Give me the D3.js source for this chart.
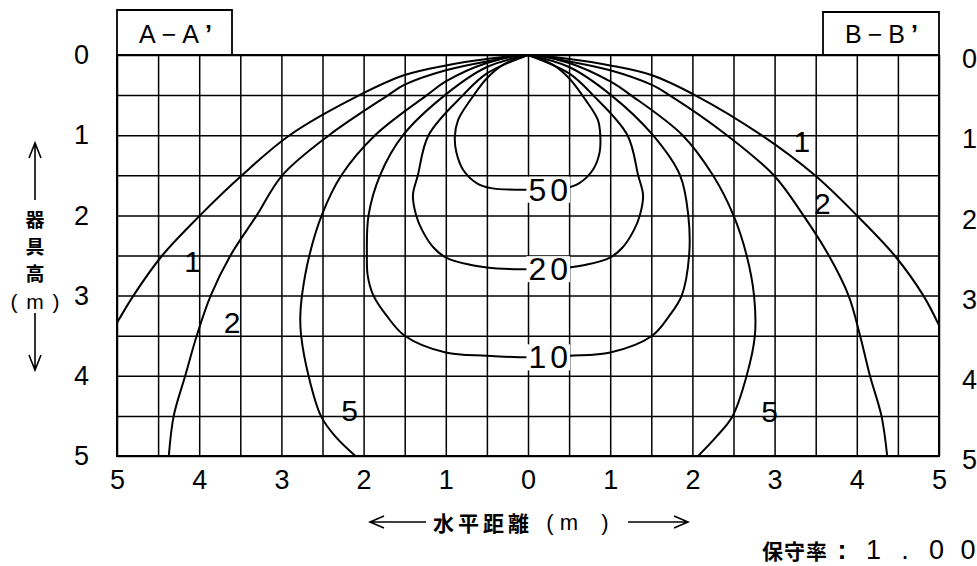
<!DOCTYPE html>
<html>
<head>
<meta charset="utf-8">
<script src="https://cdn.jsdelivr.net/npm/d3@7"></script>
<style>
  html, body { margin: 0; padding: 0; background: #fff; }
  svg { display: block; }
  text { font-family: "Liberation Sans", Arial, sans-serif; fill: #000; }
  .cjk { font-family: "Noto Sans CJK JP", sans-serif; font-weight: 700; }
</style>
</head>
<body>
<svg id="chart" width="977" height="566"></svg>
<script>
// horizontal distance (m): negative side = A-A', positive side = B-B'
const xTicks = [-5, -4, -3, -2, -1, 0, 1, 2, 3, 4, 5];
const yTicks = [0, 1, 2, 3, 4, 5];
const gridX = [-5, -4.5, -4, -3.5, -3, -2.5, -2, -1.5, -1, -0.5, 0, 0.5, 1, 1.5, 2, 2.5, 3, 3.5, 4, 4.5, 5];
const gridY = [0, 0.5, 1, 1.5, 2, 2.5, 3, 3.5, 4, 4.5, 5];

// isolux contours, [horizontal distance, mounting height]
const lux1 = [[-5.0, 3.34], [-4.8, 3.0], [-4.45, 2.5], [-3.99, 2.0], [-3.48, 1.5], [-2.9, 1.0], [-2.05, 0.5],
  [-1.5, 0.25], [-1.0, 0.13], [-0.5, 0.05], [0, 0], [0.5, 0.05], [1.0, 0.13], [1.5, 0.25], [2.03, 0.5],
  [2.84, 1.0], [3.49, 1.5], [4.0, 2.0], [4.46, 2.5], [4.81, 3.0], [5.0, 3.37]];
const lux2 = [[-4.37, 5.0], [-4.31, 4.5], [-4.17, 4.0], [-4.03, 3.5], [-3.86, 3.0], [-3.62, 2.5], [-3.3, 2.0],
  [-2.99, 1.5], [-2.42, 1.0], [-1.7, 0.5], [-1.5, 0.37], [-1.0, 0.19], [-0.5, 0.08], [0, 0], [0.5, 0.08],
  [1.0, 0.19], [1.5, 0.37], [1.72, 0.5], [2.42, 1.0], [2.99, 1.5], [3.35, 2.0], [3.66, 2.5], [3.9, 3.0],
  [4.04, 3.5], [4.16, 4.0], [4.3, 4.5], [4.37, 5.0]];
const lux5 = [[-2.1, 5.0], [-2.35, 4.75], [-2.52, 4.5], [-2.67, 4.0], [-2.76, 3.5], [-2.77, 3.25], [-2.75, 3.0],
  [-2.66, 2.5], [-2.51, 2.0], [-2.27, 1.5], [-1.86, 1.0], [-1.23, 0.5], [-1.0, 0.33], [-0.5, 0.1], [0, 0],
  [0.5, 0.1], [1.0, 0.33], [1.25, 0.5], [1.88, 1.0], [2.25, 1.5], [2.5, 2.0], [2.66, 2.5], [2.75, 3.0],
  [2.76, 3.5], [2.66, 4.0], [2.49, 4.5], [2.3, 4.75], [2.07, 5.0]];
const lux10 = [[0, 0], [-0.5, 0.15], [-1.01, 0.5], [-1.52, 1.0], [-1.8, 1.5], [-1.94, 2.0], [-1.96, 2.5],
  [-1.95, 2.75], [-1.88, 3.0], [-1.72, 3.25], [-1.5, 3.5], [-1.0, 3.71], [-0.5, 3.75], [0, 3.77],
  [0.5, 3.75], [1.0, 3.71], [1.51, 3.5], [1.72, 3.25], [1.87, 3.0], [1.96, 2.5], [1.95, 2.0], [1.85, 1.5],
  [1.52, 1.0], [1.01, 0.5], [0.5, 0.15], [0, 0]];
const lux20 = [[0, 0], [-0.5, 0.23], [-0.79, 0.5], [-1.21, 1.0], [-1.34, 1.5], [-1.4, 1.75], [-1.36, 2.0],
  [-1.29, 2.18], [-1.15, 2.4], [-0.99, 2.53], [-0.5, 2.65], [0, 2.67], [0.5, 2.65], [0.99, 2.53],
  [1.15, 2.4], [1.29, 2.18], [1.36, 2.0], [1.4, 1.75], [1.34, 1.5], [1.21, 1.0], [0.79, 0.5], [0.5, 0.23], [0, 0]];
const lux50 = [[0, 0], [-0.3, 0.12], [-0.5, 0.29], [-0.7, 0.56], [-0.85, 0.81], [-0.89, 1.02], [-0.87, 1.22],
  [-0.79, 1.43], [-0.62, 1.6], [-0.45, 1.66], [0, 1.68], [0.45, 1.66], [0.62, 1.6], [0.79, 1.43],
  [0.87, 1.22], [0.88, 1.02], [0.85, 0.81], [0.7, 0.56], [0.5, 0.29], [0.3, 0.12], [0, 0]];

// contour labels
const labelText = ["1", "1", "2", "2", "5", "5", "50", "20", "10"];
const labelH = [-4.08, 3.33, -3.6, 3.58, -2.17, 2.94, 0.27, 0.27, 0.27];
const labelD = [2.58, 1.08, 3.34, 1.85, 4.43, 4.45, 1.68, 2.67, 3.77];

const svg = d3.select("#chart");
const x = d3.scaleLinear().domain([-5, 5]).range([117, 939]);
const y = d3.scaleLinear().domain([0, 5]).range([55, 456]);
const plotW = x(5) - x(-5), plotH = y(5) - y(0);

svg.append("rect").attr("width", 977).attr("height", 566).attr("fill", "#fff");

// grid
svg.append("g")
  .attr("transform", `translate(0,${y(5)})`)
  .call(d3.axisBottom(x).tickValues(gridX).tickSize(-plotH).tickFormat(""))
  .call(g => g.select(".domain").remove())
  .selectAll("line").attr("stroke", "#000").attr("stroke-width", 1.5);
svg.append("g")
  .attr("transform", `translate(${x(-5)},0)`)
  .call(d3.axisLeft(y).tickValues(gridY).tickSize(-plotW).tickFormat(""))
  .call(g => g.select(".domain").remove())
  .selectAll("line").attr("stroke", "#000").attr("stroke-width", 1.5);
svg.append("rect")
  .attr("x", x(-5)).attr("y", y(0)).attr("width", plotW).attr("height", plotH)
  .attr("fill", "none").attr("stroke", "#000").attr("stroke-width", 2);

// tick labels
svg.append("g")
  .attr("transform", `translate(0,${y(5)})`)
  .call(d3.axisBottom(x).tickValues(xTicks).tickSize(0).tickPadding(14).tickFormat(d => Math.abs(d)))
  .call(g => g.select(".domain").remove())
  .selectAll("text").attr("font-size", 27).attr("font-family", null);
svg.append("g")
  .attr("transform", `translate(${x(-5) - 28},0)`)
  .call(d3.axisLeft(y).tickValues(yTicks).tickSize(0).tickPadding(0).tickFormat(d3.format("d")))
  .call(g => g.select(".domain").remove())
  .selectAll("text").attr("font-size", 27).attr("font-family", null);
svg.append("g")
  .attr("transform", `translate(${x(5) + 23},4)`)
  .call(d3.axisRight(y).tickValues(yTicks).tickSize(0).tickPadding(0).tickFormat(d3.format("d")))
  .call(g => g.select(".domain").remove())
  .selectAll("text").attr("font-size", 27).attr("font-family", null);

// contours
svg.append("clipPath").attr("id", "plot-clip")
  .append("rect").attr("x", x(-5)).attr("y", y(0)).attr("width", plotW).attr("height", plotH);

const line = d3.line()
  .x(d => x(d[0]))
  .y(d => y(d[1]))
  .curve(d3.curveCatmullRom.alpha(0.5));

svg.append("g").attr("clip-path", "url(#plot-clip)")
  .selectAll("path")
  .data([lux1, lux2, lux5, lux10, lux20, lux50])
  .join("path")
  .attr("d", line)
  .attr("fill", "none")
  .attr("stroke", "#000")
  .attr("stroke-width", 2);

// contour labels (the centre ones sit on a white patch over the lines)
const labels = svg.append("g");
labelText.forEach((t, i) => {
  const g = labels.append("g");
  const txt = g.append("text")
    .attr("x", x(labelH[i])).attr("y", y(labelD[i]))
    .attr("text-anchor", "middle").attr("dominant-baseline", "central")
    .attr("font-size", t.length > 1 ? 32 : 30)
    .attr("letter-spacing", t.length > 1 ? 4 : 0)
    .text(t);
  if (t.length > 1) {
    const b = txt.node().getBBox();
    g.insert("rect", "text")
      .attr("x", b.x - 2).attr("y", b.y + 5).attr("width", b.width).attr("height", b.height - 10)
      .attr("fill", "#fff");
  }
});

// section boxes
const boxes = [
  { label: "A\u2212A", x0: 117, x1: 232, top: 10, tx: 139 },
  { label: "B\u2212B", x0: 823, x1: 939, top: 12, tx: 845 }
];
boxes.forEach(b => {
  svg.append("path")
    .attr("d", `M${b.x0},${y(0)}V${b.top}H${b.x1}V${y(0)}`)
    .attr("fill", "none").attr("stroke", "#000").attr("stroke-width", 1.8);
  const t = svg.append("text")
    .attr("x", b.tx).attr("y", 43)
    .attr("font-size", 25).attr("letter-spacing", 6)
    .text(b.label);
  t.append("tspan").attr("font-weight", 700).text("\u2019");
});

// vertical axis title
const arrow = "#000";
svg.append("path")
  .attr("d", "M35,200V143M29,158L35,143L41,158")
  .attr("fill", "none").attr("stroke", arrow).attr("stroke-width", 1.6);
svg.append("path")
  .attr("d", "M35,313V370M29,355L35,370L41,355")
  .attr("fill", "none").attr("stroke", arrow).attr("stroke-width", 1.6);
["器", "具", "高"].forEach((c, i) => {
  svg.append("text").attr("class", "cjk")
    .attr("x", 35).attr("y", 218 + i * 27)
    .attr("text-anchor", "middle").attr("dominant-baseline", "central")
    .attr("font-size", 19).text(c);
});
[["(", 14], ["m", 35], [")", 56]].forEach(([c, cx]) => {
  svg.append("text")
    .attr("x", cx).attr("y", 301)
    .attr("text-anchor", "middle").attr("dominant-baseline", "central")
    .attr("font-size", 21).text(c);
});

// horizontal axis title
svg.append("path")
  .attr("d", "M370,522H426M384,516L370,522L384,528")
  .attr("fill", "none").attr("stroke", arrow).attr("stroke-width", 1.6);
svg.append("path")
  .attr("d", "M628,522H688M674,516L688,522L674,528")
  .attr("fill", "none").attr("stroke", arrow).attr("stroke-width", 1.6);
svg.append("text").attr("class", "cjk")
  .attr("x", 433).attr("y", 522)
  .attr("dominant-baseline", "central")
  .attr("font-size", 21).attr("letter-spacing", 4)
  .text("水平距離");
[["(", 550], ["m", 569], [")", 605]].forEach(([c, cx]) => {
  svg.append("text")
    .attr("x", cx).attr("y", 522)
    .attr("text-anchor", "middle").attr("dominant-baseline", "central")
    .attr("font-size", 22).text(c);
});

// maintenance factor
svg.append("text").attr("class", "cjk")
  .attr("x", 762).attr("y", 550)
  .attr("dominant-baseline", "central")
  .attr("font-size", 21).attr("letter-spacing", 1)
  .text("保守率");
[":", "1", ".", "0", "0"].forEach((c, i) => {
  svg.append("text")
    .attr("x", 842 + i * 31.5).attr("y", 550)
    .attr("text-anchor", "middle").attr("dominant-baseline", "central")
    .attr("font-size", 27)
    .attr("font-weight", c === ":" ? 700 : 400)
    .text(c);
});
</script>
</body>
</html>
